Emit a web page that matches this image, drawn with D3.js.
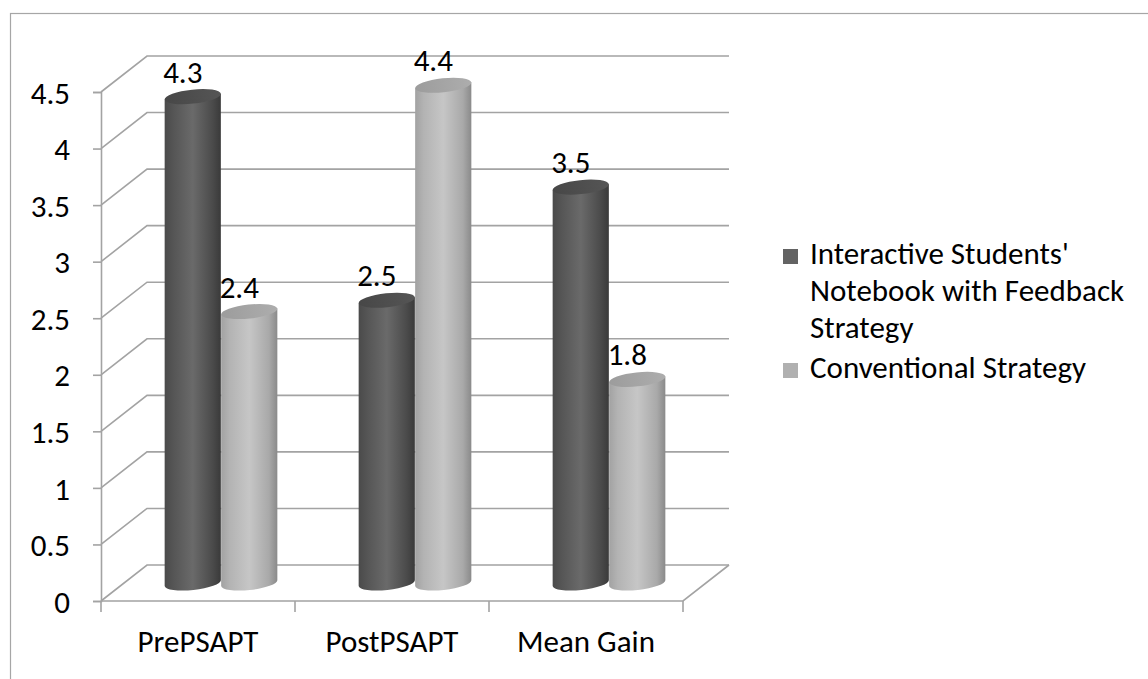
<!DOCTYPE html>
<html><head><meta charset="utf-8">
<script src="https://cdn.jsdelivr.net/npm/d3@7"></script>
<style>html,body{margin:0;padding:0;background:#fff;}svg{display:block;}
text{font-family:Carlito, Lato, "Open Sans", sans-serif;fill:#000;}</style>
</head><body>
<svg id="c" width="1148" height="679"></svg>
<script>
const categories = ["PrePSAPT", "PostPSAPT", "Mean Gain"];
const seriesNames = ["Interactive Students' Notebook with Feedback Strategy", "Conventional Strategy"];
const interactiveValues = [4.3, 2.5, 3.5];
const conventionalValues = [2.4, 4.4, 1.8];
const yTicks = [0, 0.5, 1, 1.5, 2, 2.5, 3, 3.5, 4, 4.5];
const legendLines = [["Interactive Students'", "Notebook with Feedback", "Strategy"], ["Conventional Strategy"]];

const svg = d3.select("#c");
const FS = 31;
const depthX = 46, depthY = -36;
const x = d3.scaleBand().domain(categories).range([101, 683]).padding(0);
const y = d3.scaleLinear().domain([0, 4.5]).range([601, 92]);
const gridColor = "#a3a3a3";

// outer frame
svg.append("rect").attr("x", 10.5).attr("y", 13.5).attr("width", 1300).attr("height", 800)
  .attr("fill", "none").attr("stroke", "#a6a6a6").attr("stroke-width", 1.2);

// defs gradients
const defs = svg.append("defs");
function grad(id, stops) {
  const g = defs.append("linearGradient").attr("id", id).attr("x1", 0).attr("x2", 1).attr("y1", 0).attr("y2", 0);
  stops.forEach(s => g.append("stop").attr("offset", s[0]).attr("stop-color", s[1]));
}
grad("gDark", [[0, "#4a4a4a"], [0.15, "#555"], [0.5, "#6a6a6a"], [0.85, "#4b4b4b"], [1, "#3a3a3a"]]);
grad("gLight", [[0, "#a2a2a2"], [0.15, "#b3b3b3"], [0.5, "#c6c6c6"], [0.85, "#a9a9a9"], [1, "#8a8a8a"]]);
grad("gDarkTop", [[0, "#474747"], [1, "#555"]]);
grad("gLightTop", [[0, "#9c9c9c"], [1, "#adadad"]]);

// walls / grid
const grid = svg.append("g").attr("fill", "none").attr("stroke", gridColor).attr("stroke-width", 1.6);
yTicks.forEach(v => {
  const yy = y(v);
  grid.append("path").attr("d", `M101,${yy} L${101 + depthX},${yy + depthY} L${683 + depthX},${yy + depthY}`);
});
// floor front + right edge
grid.append("path").attr("d", `M101,${y(0)} L683,${y(0)} L${683 + depthX},${y(0) + depthY}`);

// x ticks
const xEdges = categories.map(c => x(c)).concat([x(categories[categories.length - 1]) + x.bandwidth()]);
xEdges.forEach(e => {
  svg.append("line").attr("x1", e).attr("x2", e).attr("y1", y(0)).attr("y2", y(0) + 11)
    .attr("stroke", gridColor).attr("stroke-width", 1.6);
});

// y axis
const yAxis = svg.append("g").attr("transform", "translate(101,0)")
  .call(d3.axisLeft(y).tickValues(yTicks).tickSize(8).tickPadding(23).tickFormat(d => String(d)));
yAxis.select(".domain").attr("stroke", gridColor).attr("stroke-width", 1.6);
yAxis.selectAll(".tick line").attr("stroke", gridColor).attr("stroke-width", 1.6);
yAxis.selectAll(".tick text").attr("font-size", FS).attr("font-family", "Carlito, Lato, sans-serif").attr("fill", "#000").attr("dy", "0.36em");

// category labels
svg.append("g").selectAll("text").data(categories).join("text")
  .attr("x", d => x(d) + x.bandwidth() / 2).attr("y", 652)
  .attr("text-anchor", "middle").attr("font-size", FS).text(d => d);

// cylinders
const barW = 56.5, rx = barW / 2, ry = 7, rot = -6;
const cosR = Math.cos(rot * Math.PI / 180), sinR = Math.sin(rot * Math.PI / 180);
const data = [];
categories.forEach((c, i) => {
  data.push({cat: c, s: 0, v: interactiveValues[i]});
  data.push({cat: c, s: 1, v: conventionalValues[i]});
});
const bars = svg.append("g");
data.forEach(d => {
  const cx = x(d.cat) + x.bandwidth() / 2 + depthX / 2 + (d.s === 0 ? -rx : rx);
  const base = y(0) + depthY / 2;
  const top = y(d.v) + depthY / 2;
  const ax = rx * cosR, ay = rx * sinR;
  const g = bars.append("g");
  g.append("path")
    .attr("d", `M${cx - ax},${top - ay} L${cx - ax},${base - ay} A${rx},${ry} ${rot} 0 0 ${cx + ax},${base + ay} L${cx + ax},${top + ay} Z`)
    .attr("fill", d.s === 0 ? "url(#gDark)" : "url(#gLight)");
  g.append("ellipse").attr("cx", cx).attr("cy", top).attr("rx", rx).attr("ry", ry)
    .attr("transform", `rotate(${rot},${cx},${top})`)
    .attr("fill", d.s === 0 ? "url(#gDarkTop)" : "url(#gLightTop)");
  svg.append("text").attr("x", cx - 10).attr("y", top - 14).attr("text-anchor", "middle")
    .attr("font-size", FS).text(d3.format(".1f")(d.v));
});

// legend
const legColors = ["#636363", "#b0b0b0"];
const leg = svg.append("g");
const legTops = [264, 378];
legendLines.forEach((lines, i) => {
  leg.append("rect").attr("x", 783).attr("y", legTops[i] - 15).attr("width", 15).attr("height", 15).attr("fill", legColors[i]);
  const t = leg.append("text").attr("x", 810).attr("y", legTops[i]).attr("font-size", FS);
  lines.forEach((line, j) => {
    t.append("tspan").attr("x", 810).attr("dy", j === 0 ? 0 : 37).text(line);
  });
});
</script>
</body></html>
